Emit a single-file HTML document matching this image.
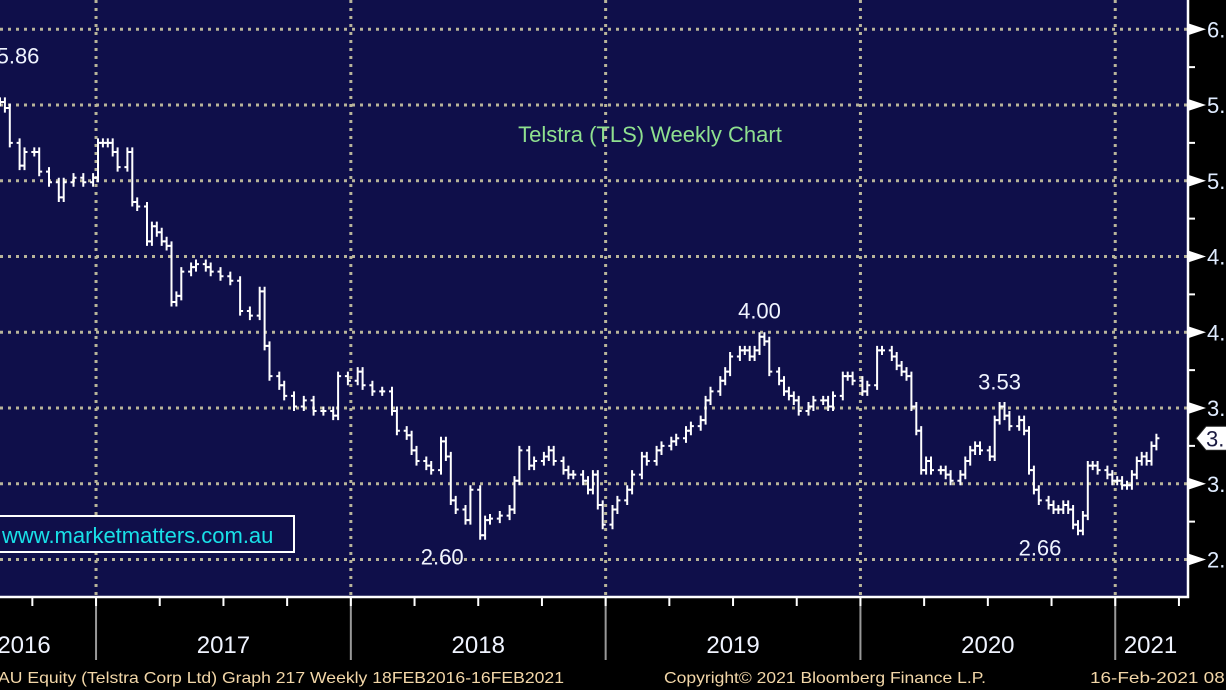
<!DOCTYPE html>
<html><head><meta charset="utf-8"><style>
html,body{margin:0;padding:0;background:#000;width:1226px;height:690px;overflow:hidden}
svg{display:block}
text{font-family:"Liberation Sans",sans-serif}
</style></head><body>
<svg id="chart" width="1226" height="690" xmlns="http://www.w3.org/2000/svg">
<rect x="0" y="0" width="1226" height="690" fill="#000"/>
<rect x="0" y="0" width="1188" height="597" fill="#0f0f4a"/>
<g id="grid"></g>
<g id="series"></g>
<g id="axes"></g>
<text x="650" y="142" font-size="22" fill="#8fe08f" text-anchor="middle">Telstra (TLS) Weekly Chart</text>
<g id="annotations"></g>
<rect x="-4" y="516" width="298" height="36" fill="#0f0f4a" stroke="#fff" stroke-width="2"/>
<text x="2" y="543" font-size="22" fill="#19e0e8">www.marketmatters.com.au</text>
<text x="-2" y="683" font-size="16" fill="#f3d7a8" textLength="566" lengthAdjust="spacingAndGlyphs">AU Equity (Telstra Corp Ltd) Graph 217  Weekly 18FEB2016-16FEB2021</text>
<text x="664" y="683" font-size="16" fill="#f3d7a8" textLength="322" lengthAdjust="spacingAndGlyphs">Copyright© 2021 Bloomberg Finance L.P.</text>
<text x="1090" y="683" font-size="16" fill="#f3d7a8" textLength="140" lengthAdjust="spacingAndGlyphs">16-Feb-2021 08:</text>
</svg>
<script>
const weeks=[0,1,2,4,5,7,8,10,12,13,15,17,19,20,21,22,23,24,26,27,28,30,31,32,33,34,35,36,37,39,40,42,43,45,47,49,51,53,54,55,57,58,60,62,64,66,68,69,71,73,74,76,78,80,81,83,84,85,87,88,90,91,92,93,95,96,98,99,100,102,104,105,106,108,109,111,112,113,115,116,117,119,120,121,122,123,125,126,128,129,131,132,134,135,137,138,140,141,143,144,145,147,148,149,151,152,153,154,155,156,157,159,160,161,162,163,165,166,168,169,170,172,173,174,176,177,179,180,182,183,184,185,186,187,188,189,190,192,193,194,196,197,198,199,200,202,203,204,205,206,208,209,210,211,212,214,215,216,217,218,219,220,221,222,223,224,226,227,228,229,230,231,232,233,234,235,236];
const closes=[5.52,5.48,5.25,5.10,5.19,5.19,5.06,4.99,4.89,4.99,5.02,4.99,5.02,5.25,5.25,5.25,5.19,5.09,5.19,4.86,4.83,4.60,4.70,4.66,4.60,4.57,4.20,4.24,4.40,4.43,4.45,4.43,4.40,4.37,4.34,4.14,4.11,4.27,3.91,3.71,3.65,3.58,3.51,3.55,3.48,3.48,3.45,3.71,3.68,3.74,3.65,3.61,3.61,3.48,3.35,3.32,3.22,3.15,3.12,3.09,3.28,3.18,2.89,2.83,2.76,2.96,2.66,2.76,2.77,2.79,2.83,3.02,3.22,3.12,3.15,3.18,3.22,3.15,3.09,3.06,3.06,3.02,2.96,3.06,2.86,2.73,2.83,2.89,2.96,3.06,3.18,3.15,3.22,3.25,3.28,3.30,3.35,3.38,3.42,3.55,3.61,3.68,3.74,3.84,3.88,3.88,3.84,3.88,3.97,3.94,3.74,3.68,3.61,3.58,3.55,3.48,3.51,3.55,3.55,3.51,3.58,3.71,3.71,3.68,3.61,3.65,3.88,3.88,3.84,3.78,3.74,3.71,3.51,3.35,3.09,3.15,3.09,3.09,3.06,3.02,3.06,3.15,3.22,3.25,3.22,3.18,3.42,3.51,3.45,3.38,3.42,3.35,3.09,2.96,2.89,2.86,2.83,2.83,2.86,2.83,2.73,2.69,2.79,3.12,3.12,3.09,3.06,3.02,3.02,2.99,2.99,3.06,3.15,3.18,3.15,3.25,3.30];
const yTicks=[6.0,5.5,5.0,4.5,4.0,3.5,3.0,2.5];
const yTickLabels=["6.","5.","5.","4.","4.","3.","3.","2."];
const yearStarts=[19.6,71.6,123.6,175.6,227.6];
const yearLabels=["2016","2017","2018","2019","2020","2021"];
const annWeeks=[0,155,98,204,220];
const annValues=[5.86,4.00,2.60,3.53,2.66];
const annLabels=["5.86","4.00","2.60","3.53","2.66"];
const annBelow=[false,false,true,false,true];
const lastPrice=3.30;

const NS="http://www.w3.org/2000/svg";
const X=w=>w*4.9;
const Y=v=>105+(5.5-v)*151.5;
function mk(tag,attrs,parent){const e=document.createElementNS(NS,tag);for(const k in attrs)e.setAttribute(k,attrs[k]);parent.appendChild(e);return e;}
const grid=document.getElementById('grid'),series=document.getElementById('series'),axes=document.getElementById('axes'),ann=document.getElementById('annotations');

yTicks.forEach((v,i)=>{
  const l=mk('line',{x1:0,x2:1188,y1:Y(v),y2:Y(v),stroke:'#b8b49a','stroke-width':3,'stroke-dasharray':'3 5'},grid);
  
  
  const t=mk('polygon',{points:`1188,${Y(v)-6} 1206,${Y(v)} 1188,${Y(v)+6}`,fill:'#fff'},axes);
  
  
  const tx=mk('text',{x:1207,y:Y(v)+8,'font-size':22,fill:'#e0ecff'},axes);
  tx.textContent=yTickLabels[i];
  
  
  if(i<yTicks.length-1){const m=mk('line',{x1:1188,x2:1195,y1:Y(v-0.25),y2:Y(v-0.25),stroke:'#fff','stroke-width':2},axes);
  
  }
});
yearStarts.forEach(w=>{
  const l=mk('line',{x1:X(w),x2:X(w),y1:0,y2:597,stroke:'#b8b49a','stroke-width':3,'stroke-dasharray':'3 5'},grid);
  
  
  const s=mk('line',{x1:X(w),x2:X(w),y1:597,y2:660,stroke:'#999','stroke-width':2},axes);
  
  
});
for(let w=yearStarts[0]-52;w<245;w+=13){
  const x=X(w);if(x<0||x>1188)continue;
  const m=mk('line',{x1:x,x2:x,y1:597,y2:606,stroke:'#fff','stroke-width':2},axes);
  
  
}
yearLabels.forEach((t,i)=>{
  let a=i===0?yearStarts[0]-52:yearStarts[i-1];
  let b=i<yearStarts.length?yearStarts[i]:242;
  let cx=(X(a)+X(b))/2;
  if(i===0)cx=24;
  const tx=mk('text',{x:cx,y:653,'font-size':24,fill:'#f0f4ff','text-anchor':'middle'},axes);
  tx.textContent=t;
  
  
});
const ax=mk('path',{d:'M1188,0 V597 H0',stroke:'#fff','stroke-width':2.5,fill:'none'},axes);



const n=Math.min(weeks.length,closes.length);
for(let i=0;i<n;i++){
  const prev=i>0?closes[i-1]:closes[i];
  const hi=Math.max(prev,closes[i])+0.03,lo=Math.min(prev,closes[i])-0.03;
  const x=X(weeks[i]);
  const d=`M${x},${Y(hi)} V${Y(lo)} M${x-3},${Y(prev)} H${x} M${x},${Y(closes[i])} H${x+3}`;
  const p=mk('path',{d:d,stroke:'#fff','stroke-width':2,fill:'none'},series);
  
  
}
annLabels.forEach((t,i)=>{
  let x=X(annWeeks[i]);
  let y=annBelow[i]?Y(annValues[i])+20:Y(annValues[i])-14;
  if(annWeeks[i]===0){x=18;y=Y(annValues[i])+13;}
  if(annBelow[i])x-=38;
  const tx=mk('text',{x:x,y:y,'font-size':22,fill:'#f0f4ff','text-anchor':'middle'},ann);
  tx.textContent=t;
  
  
});
const lp=Y(lastPrice);
const tag=mk('polygon',{points:`1196,${lp} 1206,${lp-12} 1230,${lp-12} 1230,${lp+12} 1206,${lp+12}`,fill:'#fff',stroke:'#222','stroke-width':1},axes);


const lt=mk('text',{x:1206,y:lp+8,'font-size':22,fill:'#1a1a40'},axes);
lt.textContent='3.';


</script>
</body></html>
